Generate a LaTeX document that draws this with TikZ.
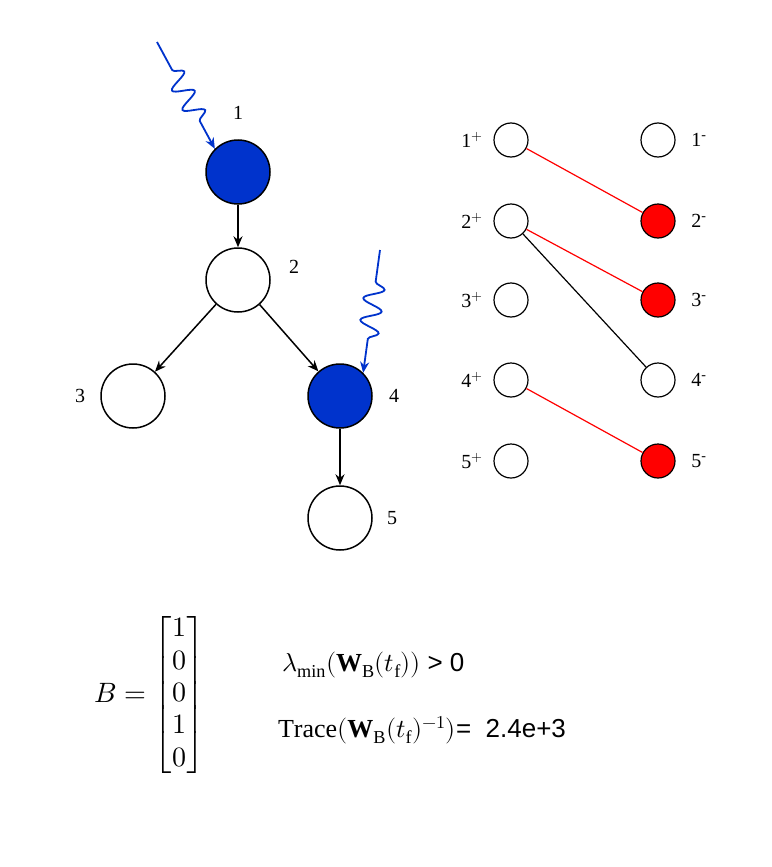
\documentclass[tikz,border=0pt]{standalone}
\usepackage{amsmath}
\usepackage{fontspec}
\usepackage{unicode-math}
\setmainfont{Liberation Serif}
\setmathfont{Latin Modern Math}
\newfontfamily\helv{Liberation Sans}
\usetikzlibrary{arrows.meta,decorations.pathmorphing}
\definecolor{inblue}{RGB}{0,51,204}
\begin{document}
\begin{tikzpicture}[x=1pt,y=-1pt,line width=1.5pt,>={Stealth[length=11pt,width=9pt]},
  base node/.style={circle,draw,minimum size=64pt,inner sep=0pt,fill=white},
  input node/.style={base node,fill=inblue},
  half node/.style={circle,draw,minimum size=34pt,inner sep=0pt,line width=1.2pt,fill=white},
  match node/.style={half node,fill=red},
  lbl/.style={font=\fontsize{20}{22}\selectfont},
  wave/.style={->,inblue,line width=1.8pt,decorate,decoration={snake,amplitude=10pt,segment length=22pt,pre length=32pt,post length=28pt}}]
  \useasboundingbox (0,0) rectangle (771,867);

  % tree
  \node[input node] (1) at (238,172) {};
  \node[base node] (2) at (238,280) {};
  \node[base node] (3) at (133,396) {};
  \node[input node] (4) at (340,396) {};
  \node[base node] (5) at (340,518) {};
  \node[lbl] (l1) at (238,113) {1};
  \node[lbl] (l2) at (294,267) {2};
  \node[lbl] (l3) at (80,396) {3};
  \node[lbl] (l4) at (394,396) {4};
  \node[lbl] (l5) at (392,518) {5};
  \draw[->] (1) -- (2);
  \draw[->] (2) -- (3);
  \draw[->] (2) -- (4);
  \draw[->] (4) -- (5);

  % inputs
  \coordinate (s1) at (157,42);
  \coordinate (s4) at (380,250);
  \draw[wave] (s1) -- (1.north west);
  \draw[wave] (s4) -- (4.north east);

  % bipartite graph
  \foreach \i/\y in {1/140,2/221,3/300,4/380,5/461} {
    \node[half node] (p\i) at (511,\y) {};
    \node[lbl] (lp\i) at (472,\y) {\i$^{+}$};
    \node[lbl] (lm\i) at (699,\y) {\i$^{\text{-}}$};
  }
  \node[half node] (m1) at (658,140) {};
  \node[match node] (m2) at (658,221) {};
  \node[match node] (m3) at (658,300) {};
  \node[half node] (m4) at (658,380) {};
  \node[match node] (m5) at (658,461) {};
  \draw[red,line width=1.2pt] (p1) -- (m2);
  \draw[red,line width=1.2pt] (p2) -- (m3);
  \draw[red,line width=1.2pt] (p4) -- (m5);
  \draw[line width=1.2pt] (p2) -- (m4);

  % formulas
  \node[font=\fontsize{28}{34}\selectfont] (B) at (150,695)
    {$B=\renewcommand{\arraystretch}{0.95}\begin{bmatrix}1\\0\\0\\1\\0\end{bmatrix}$};
  \node[anchor=west,font=\fontsize{26}{30}\selectfont] (lam) at (278,665)
    {$\lambda_{\min}(\mathbf{W}_{\mathrm{B}}(t_{\mathrm{f}}))$ {\helv > 0}};
  \node[anchor=west,font=\fontsize{26}{30}\selectfont] (tr) at (274,730)
    {$\mathrm{Trace}(\mathbf{W}_{\mathrm{B}}(t_{\mathrm{f}})^{-1})${\helv = \ 2.4e+3}};
\end{tikzpicture}
\end{document}
